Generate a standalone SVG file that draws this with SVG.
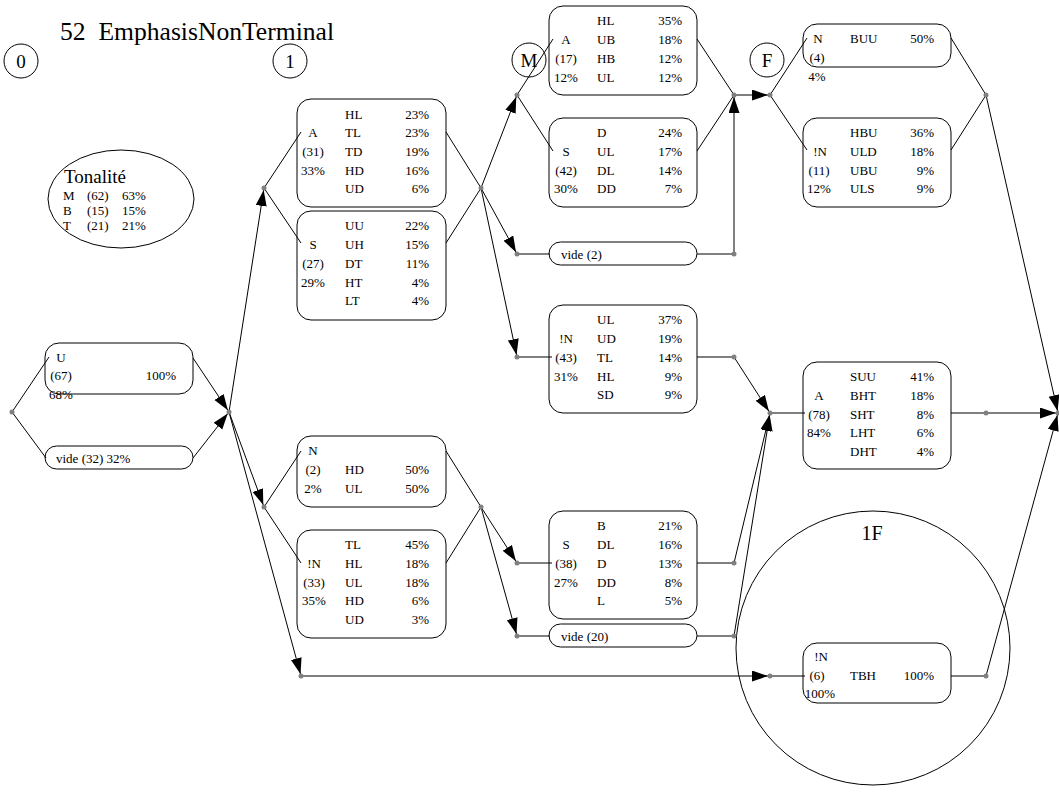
<svg xmlns="http://www.w3.org/2000/svg" width="1059" height="792" viewBox="0 0 1059 792">
<style>
.bx{fill:#fff;stroke:#000;stroke-width:1}
.ring{fill:none;stroke:#000;stroke-width:1}
.t{font-family:"Liberation Serif","Times New Roman",serif;font-size:13px;fill:#000}
.m{text-anchor:middle}
.e{text-anchor:end}
.big{font-family:"Liberation Serif","Times New Roman",serif;font-size:19px;fill:#000}
.c{stroke:#000;stroke-width:1;fill:none}
.a{marker-end:url(#arr)}
.d{fill:#808080}
</style>
<defs>
<marker id="arr" markerUnits="userSpaceOnUse" markerWidth="19" markerHeight="12" refX="18" refY="5.5" orient="auto">
<path d="M0,0 L16,5.5 L0,11 z" fill="#000"/>
</marker>
</defs>
<rect width="1059" height="792" fill="#fff"/>

<g id="title">
<text x="60" y="40" xml:space="preserve" style="font-family:'Liberation Serif','Times New Roman',serif;font-size:25.6px">52  EmphasisNonTerminal</text>
</g>

<g id="stage-labels">
<circle class="ring" cx="21" cy="61" r="17"/><text class="big m" x="21" y="68">0</text>
<circle class="ring" cx="290" cy="61" r="17"/><text class="big m" x="290" y="68">1</text>
<circle class="ring" cx="529" cy="60" r="17"/><text class="big m" x="529" y="67">M</text>
<circle class="ring" cx="767" cy="60" r="17"/><text class="big m" x="767" y="67">F</text>
</g>

<g id="tonalite">
<ellipse class="ring" cx="121" cy="199" rx="73" ry="49"/>
<text class="big" x="64" y="183">Tonalité</text>
<text class="t" x="63" y="200">M</text><text class="t" x="87" y="200">(62)</text><text class="t" x="122" y="200">63%</text>
<text class="t" x="63" y="215">B</text><text class="t" x="87" y="215">(15)</text><text class="t" x="122" y="215">15%</text>
<text class="t" x="63" y="230">T</text><text class="t" x="87" y="230">(21)</text><text class="t" x="122" y="230">21%</text>
</g>

<g id="zone-1F">
<circle class="ring" cx="873" cy="648" r="137"/>
<text class="m" x="872" y="540" style="font-family:'Liberation Serif','Times New Roman',serif;font-size:20px">1F</text>
</g>

<g id="node-U">
<rect class="bx" x="45" y="343" width="148" height="51" rx="14"/>
<text class="t m" x="61" y="362">U</text>
<text class="t m" x="61" y="380">(67)</text><text class="t e" x="176" y="380">100%</text>
<text class="t m" x="61" y="399">68%</text>
</g>

<g id="node-vide32">
<rect class="bx" x="45" y="446" width="148" height="23" rx="11.5"/>
<text class="t" x="56" y="463">vide (32) 32%</text>
</g>

<g id="node-A31">
<rect class="bx" x="297" y="99" width="149" height="108" rx="14"/>
<text class="t" x="345" y="119">HL</text><text class="t e" x="429" y="119">23%</text>
<text class="t m" x="313" y="137">A</text><text class="t" x="345" y="137">TL</text><text class="t e" x="429" y="137">23%</text>
<text class="t m" x="313" y="156">(31)</text><text class="t" x="345" y="156">TD</text><text class="t e" x="429" y="156">19%</text>
<text class="t m" x="313" y="175">33%</text><text class="t" x="345" y="175">HD</text><text class="t e" x="429" y="175">16%</text>
<text class="t" x="345" y="193">UD</text><text class="t e" x="429" y="193">6%</text>
</g>

<g id="node-S27">
<rect class="bx" x="297" y="211" width="149" height="109" rx="14"/>
<text class="t" x="345" y="230">UU</text><text class="t e" x="429" y="230">22%</text>
<text class="t m" x="313" y="249">S</text><text class="t" x="345" y="249">UH</text><text class="t e" x="429" y="249">15%</text>
<text class="t m" x="313" y="268">(27)</text><text class="t" x="345" y="268">DT</text><text class="t e" x="429" y="268">11%</text>
<text class="t m" x="313" y="287">29%</text><text class="t" x="345" y="287">HT</text><text class="t e" x="429" y="287">4%</text>
<text class="t" x="345" y="305">LT</text><text class="t e" x="429" y="305">4%</text>
</g>

<g id="node-N2">
<rect class="bx" x="297" y="436" width="149" height="71" rx="14"/>
<text class="t m" x="313" y="455">N</text>
<text class="t m" x="313" y="474">(2)</text><text class="t" x="345" y="474">HD</text><text class="t e" x="429" y="474">50%</text>
<text class="t m" x="313" y="493">2%</text><text class="t" x="345" y="493">UL</text><text class="t e" x="429" y="493">50%</text>
</g>

<g id="node-notN33">
<rect class="bx" x="297" y="530" width="149" height="108" rx="14"/>
<text class="t" x="345" y="549">TL</text><text class="t e" x="429" y="549">45%</text>
<text class="t m" x="314" y="568">!N</text><text class="t" x="345" y="568">HL</text><text class="t e" x="429" y="568">18%</text>
<text class="t m" x="314" y="587">(33)</text><text class="t" x="345" y="587">UL</text><text class="t e" x="429" y="587">18%</text>
<text class="t m" x="314" y="605">35%</text><text class="t" x="345" y="605">HD</text><text class="t e" x="429" y="605">6%</text>
<text class="t" x="345" y="624">UD</text><text class="t e" x="429" y="624">3%</text>
</g>

<g id="node-A17">
<rect class="bx" x="549" y="6" width="148" height="89" rx="14"/>
<text class="t" x="597" y="25">HL</text><text class="t e" x="682" y="25">35%</text>
<text class="t m" x="566" y="44">A</text><text class="t" x="597" y="44">UB</text><text class="t e" x="682" y="44">18%</text>
<text class="t m" x="566" y="63">(17)</text><text class="t" x="597" y="63">HB</text><text class="t e" x="682" y="63">12%</text>
<text class="t m" x="566" y="82">12%</text><text class="t" x="597" y="82">UL</text><text class="t e" x="682" y="82">12%</text>
</g>

<g id="node-S42">
<rect class="bx" x="549" y="118" width="148" height="89" rx="14"/>
<text class="t" x="597" y="137">D</text><text class="t e" x="682" y="137">24%</text>
<text class="t m" x="566" y="156">S</text><text class="t" x="597" y="156">UL</text><text class="t e" x="682" y="156">17%</text>
<text class="t m" x="566" y="175">(42)</text><text class="t" x="597" y="175">DL</text><text class="t e" x="682" y="175">14%</text>
<text class="t m" x="566" y="193">30%</text><text class="t" x="597" y="193">DD</text><text class="t e" x="682" y="193">7%</text>
</g>

<g id="node-vide2">
<rect class="bx" x="549" y="242" width="148" height="23" rx="11.5"/>
<text class="t" x="561" y="259">vide (2)</text>
</g>

<g id="node-notN43">
<rect class="bx" x="549" y="305" width="148" height="108" rx="14"/>
<text class="t" x="597" y="324">UL</text><text class="t e" x="682" y="324">37%</text>
<text class="t m" x="566" y="343">!N</text><text class="t" x="597" y="343">UD</text><text class="t e" x="682" y="343">19%</text>
<text class="t m" x="566" y="362">(43)</text><text class="t" x="597" y="362">TL</text><text class="t e" x="682" y="362">14%</text>
<text class="t m" x="566" y="381">31%</text><text class="t" x="597" y="381">HL</text><text class="t e" x="682" y="381">9%</text>
<text class="t" x="597" y="399">SD</text><text class="t e" x="682" y="399">9%</text>
</g>

<g id="node-S38">
<rect class="bx" x="549" y="511" width="148" height="108" rx="14"/>
<text class="t" x="597" y="530">B</text><text class="t e" x="682" y="530">21%</text>
<text class="t m" x="566" y="549">S</text><text class="t" x="597" y="549">DL</text><text class="t e" x="682" y="549">16%</text>
<text class="t m" x="566" y="568">(38)</text><text class="t" x="597" y="568">D</text><text class="t e" x="682" y="568">13%</text>
<text class="t m" x="566" y="587">27%</text><text class="t" x="597" y="587">DD</text><text class="t e" x="682" y="587">8%</text>
<text class="t" x="597" y="605">L</text><text class="t e" x="682" y="605">5%</text>
</g>

<g id="node-vide20">
<rect class="bx" x="549" y="624" width="148" height="23" rx="11.5"/>
<text class="t" x="561" y="641">vide (20)</text>
</g>

<g id="node-N4">
<rect class="bx" x="803" y="24" width="148" height="43" rx="14"/>
<text class="t m" x="818" y="43">N</text><text class="t" x="850" y="43">BUU</text><text class="t e" x="934" y="43">50%</text>
<text class="t m" x="817" y="62">(4)</text>
<text class="t m" x="817" y="81">4%</text>
</g>

<g id="node-notN11">
<rect class="bx" x="803" y="118" width="148" height="89" rx="14"/>
<text class="t" x="850" y="137">HBU</text><text class="t e" x="934" y="137">36%</text>
<text class="t m" x="820" y="156">!N</text><text class="t" x="850" y="156">ULD</text><text class="t e" x="934" y="156">18%</text>
<text class="t m" x="819" y="175">(11)</text><text class="t" x="850" y="175">UBU</text><text class="t e" x="934" y="175">9%</text>
<text class="t m" x="819" y="193">12%</text><text class="t" x="850" y="193">ULS</text><text class="t e" x="934" y="193">9%</text>
</g>

<g id="node-A78">
<rect class="bx" x="803" y="362" width="148" height="107" rx="14"/>
<text class="t" x="850" y="381">SUU</text><text class="t e" x="934" y="381">41%</text>
<text class="t m" x="819" y="400">A</text><text class="t" x="850" y="400">BHT</text><text class="t e" x="934" y="400">18%</text>
<text class="t m" x="819" y="419">(78)</text><text class="t" x="850" y="419">SHT</text><text class="t e" x="934" y="419">8%</text>
<text class="t m" x="819" y="437">84%</text><text class="t" x="850" y="437">LHT</text><text class="t e" x="934" y="437">6%</text>
<text class="t" x="850" y="456">DHT</text><text class="t e" x="934" y="456">4%</text>
</g>

<g id="node-notN6">
<rect class="bx" x="803" y="643" width="148" height="60" rx="14"/>
<text class="t m" x="821" y="661">!N</text>
<text class="t m" x="817" y="680">(6)</text><text class="t" x="850" y="680">TBH</text><text class="t e" x="934" y="680">100%</text>
<text class="t m" x="820" y="698">100%</text>
</g>

<g id="connectors">
<path class="c" d="M12,412 L49,357"/>
<path class="c" d="M12,412 L46,458"/>
<path class="c a" d="M193,358 L229,412"/>
<path class="c a" d="M193,458 L229,412"/>
<path class="c a" d="M229,412 L264,188"/>
<path class="c a" d="M229,412 L264,507"/>
<path class="c a" d="M229,412 L301,676"/>
<path class="c" d="M264,188 L301,132"/>
<path class="c" d="M264,188 L301,243"/>
<path class="c" d="M446,132 L481,188"/>
<path class="c" d="M446,243 L481,188"/>
<path class="c a" d="M481,188 L517,95"/>
<path class="c a" d="M481,188 L517,254"/>
<path class="c a" d="M481,188 L517,357"/>
<path class="c" d="M517,95 L553,39"/>
<path class="c" d="M517,95 L553,151"/>
<path class="c" d="M697,39 L734,95"/>
<path class="c" d="M697,151 L734,95"/>
<path class="c a" d="M734,95 L770,95"/>
<path class="c" d="M770,95 L807,38"/>
<path class="c" d="M770,95 L807,150"/>
<path class="c" d="M951,38 L986,95"/>
<path class="c" d="M951,150 L986,95"/>
<path class="c a" d="M986,95 L1058,413"/>
<path class="c" d="M517,254 L550,254"/>
<path class="c" d="M697,254 L734,254"/>
<path class="c a" d="M734,254 L734,95"/>
<path class="c" d="M517,357 L552,357"/>
<path class="c" d="M697,357 L734,357"/>
<path class="c a" d="M734,357 L770,413"/>
<path class="c" d="M770,413 L805,413"/>
<path class="c" d="M951,413 L986,413"/>
<path class="c a" d="M986,413 L1058,413"/>
<path class="c" d="M264,507 L301,451"/>
<path class="c" d="M264,507 L301,563"/>
<path class="c" d="M446,451 L481,507"/>
<path class="c" d="M446,563 L481,507"/>
<path class="c a" d="M481,507 L517,563"/>
<path class="c a" d="M481,507 L517,636"/>
<path class="c" d="M517,563 L552,563"/>
<path class="c" d="M697,563 L734,563"/>
<path class="c a" d="M734,563 L770,413"/>
<path class="c" d="M517,636 L550,636"/>
<path class="c" d="M697,636 L734,636"/>
<path class="c a" d="M734,636 L770,413"/>
<path class="c a" d="M301,676 L770,676"/>
<path class="c" d="M770,676 L805,676"/>
<path class="c" d="M951,676 L986,676"/>
<path class="c a" d="M986,676 L1058,413"/>
<g class="d">
<circle cx="12" cy="412" r="2.5"/><circle cx="229" cy="412" r="2.5"/>
<circle cx="264" cy="188" r="2.5"/><circle cx="264" cy="507" r="2.5"/><circle cx="301" cy="676" r="2.5"/>
<circle cx="481" cy="188" r="2.5"/><circle cx="481" cy="507" r="2.5"/>
<circle cx="517" cy="95" r="2.5"/><circle cx="517" cy="254" r="2.5"/><circle cx="517" cy="357" r="2.5"/>
<circle cx="517" cy="563" r="2.5"/><circle cx="517" cy="636" r="2.5"/>
<circle cx="734" cy="95" r="2.5"/><circle cx="734" cy="254" r="2.5"/><circle cx="734" cy="357" r="2.5"/>
<circle cx="734" cy="563" r="2.5"/><circle cx="734" cy="636" r="2.5"/>
<circle cx="770" cy="95" r="2.5"/><circle cx="770" cy="413" r="2.5"/><circle cx="770" cy="676" r="2.5"/>
<circle cx="986" cy="95" r="2.5"/><circle cx="986" cy="413" r="2.5"/><circle cx="986" cy="676" r="2.5"/>
<circle cx="1058" cy="413" r="2.5"/>
</g>
</g>
</svg>
